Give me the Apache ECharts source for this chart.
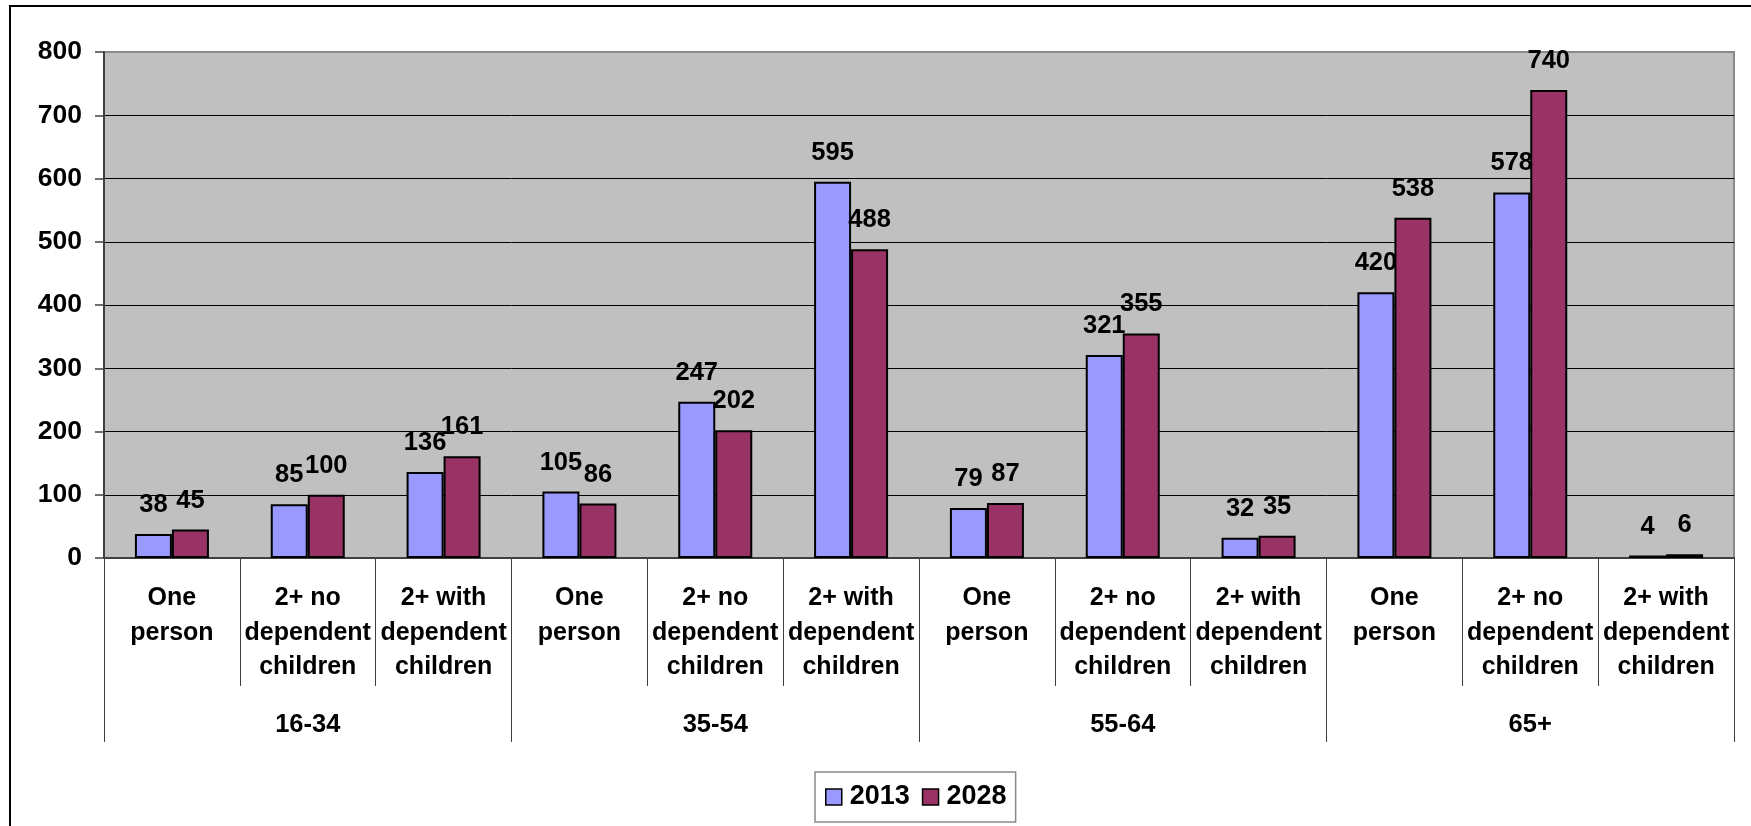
<!DOCTYPE html>
<html>
<head>
<meta charset="utf-8">
<title>Households by type and age group, 2013 and 2028</title>
<script src="https://cdn.jsdelivr.net/npm/echarts@6/dist/echarts.min.js"></script>
<style>
  html, body { margin: 0; padding: 0; background: #ffffff; }
  #chart { width: 1751px; height: 826px; }
</style>
</head>
<body>
<div id="chart"></div>
<script>
// Household types, repeated within each age band
const householdTypes = [
  'One\nperson', '2+ no\ndependent\nchildren', '2+ with\ndependent\nchildren',
  'One\nperson', '2+ no\ndependent\nchildren', '2+ with\ndependent\nchildren',
  'One\nperson', '2+ no\ndependent\nchildren', '2+ with\ndependent\nchildren',
  'One\nperson', '2+ no\ndependent\nchildren', '2+ with\ndependent\nchildren'
];
// Age bands, each spanning three household types
const ageBands = ['16-34', '35-54', '55-64', '65+'];

// Households (thousands)
const values2013 = [38, 85, 136, 105, 247, 595, 79, 321, 32, 420, 578, 4];
const values2028 = [45, 100, 161, 86, 202, 488, 87, 355, 35, 538, 740, 6];

// Value axis ticks
const yMin = 0, yMax = 800, yStep = 100;

const FONT = '"Liberation Sans", Arial, Helvetica, sans-serif';

const chart = echarts.init(document.getElementById('chart'), null, { renderer: 'canvas' });

const barLabel = {
  show: true,
  position: 'top',
  distance: 16,
  color: '#000',
  fontFamily: FONT,
  fontWeight: 'bold',
  fontSize: 25.5,
  lineHeight: 26
};

chart.setOption({
  animation: false,
  backgroundColor: '#ffffff',
  graphic: [{
    type: 'rect',
    silent: true,
    z: 100,
    shape: { x: 10, y: 6, width: 1800, height: 900 },
    style: { fill: 'none', stroke: '#000', lineWidth: 2 }
  }],
  grid: {
    left: 104, right: 17, top: 52, bottom: 268,
    show: true,
    backgroundColor: '#c0c0c0',
    borderColor: '#8a8a8a',
    borderWidth: 2
  },
  legend: {
    left: 815, top: 772,
    orient: 'horizontal',
    padding: [10, 9, 10, 10],
    itemGap: 12,
    itemWidth: 16, itemHeight: 16,
    icon: 'rect',
    borderColor: '#8a8a8a',
    borderWidth: 1.5,
    backgroundColor: '#ffffff',
    textStyle: {
      color: '#000', fontFamily: FONT, fontWeight: 'bold', fontSize: 27, lineHeight: 30,
      padding: [0, 0, 0, 3]
    },
    itemStyle: { borderColor: '#000', borderWidth: 1.5 },
    data: ['2013', '2028']
  },
  xAxis: [{
    type: 'category',
    data: householdTypes,
    position: 'bottom',
    axisLine: { show: true, lineStyle: { color: '#404040', width: 2 } },
    axisTick: { show: true, interval: 0, length: 128, lineStyle: { color: '#404040', width: 1 } },
    axisLabel: {
      interval: 0, margin: 23,
      color: '#000', fontFamily: FONT, fontWeight: 'bold', fontSize: 25, lineHeight: 34.5
    },
    splitLine: { show: false }
  }, {
    type: 'category',
    data: ageBands,
    position: 'bottom',
    axisLine: { show: false },
    axisTick: { show: true, interval: 0, length: 184, lineStyle: { color: '#404040', width: 1 } },
    axisLabel: {
      interval: 0, margin: 150,
      color: '#000', fontFamily: FONT, fontWeight: 'bold', fontSize: 25.5, lineHeight: 34.5
    },
    splitLine: { show: false }
  }],
  yAxis: {
    type: 'value',
    min: yMin, max: yMax, interval: yStep,
    axisLine: { show: true, lineStyle: { color: '#404040', width: 2 } },
    axisTick: { show: true, inside: false, length: 9, lineStyle: { color: '#404040', width: 1.5 } },
    axisLabel: {
      margin: 22,
      color: '#000', fontFamily: FONT, fontWeight: 'bold', fontSize: 26.5
    },
    splitLine: {
      show: true, showMinLine: false, showMaxLine: false,
      lineStyle: { color: '#000', width: 1 }
    }
  },
  series: [{
    name: '2013',
    type: 'bar',
    xAxisIndex: 0,
    data: values2013,
    barWidth: 37,
    barGap: '0%',
    itemStyle: { color: '#9999ff', borderColor: '#000', borderWidth: 2 },
    label: barLabel
  }, {
    name: '2028',
    type: 'bar',
    xAxisIndex: 0,
    data: values2028,
    barWidth: 37,
    barGap: '0%',
    itemStyle: { color: '#993366', borderColor: '#000', borderWidth: 2 },
    label: barLabel
  }]
});
</script>
</body>
</html>
